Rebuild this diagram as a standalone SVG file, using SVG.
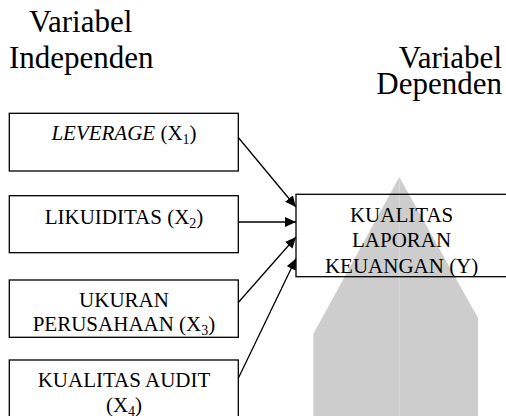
<svg xmlns="http://www.w3.org/2000/svg" width="506" height="416" viewBox="0 0 506 416">
<style>
text{font-family:"Liberation Serif",Tinos,"Times New Roman",Times,"Nimbus Roman","Nimbus Roman No9 L","Noto Serif","DejaVu Serif",FreeSerif,serif;fill:#000}
.t{font-size:31px}
.b{font-size:21px;text-anchor:middle}
.box{fill:none;stroke:#000;stroke-width:1.3}
.c{stroke:#000;stroke-width:1.3;fill:none;marker-end:url(#ah)}
.s{font-size:14px}
</style>
<defs>
<marker id="ah" markerUnits="userSpaceOnUse" markerWidth="12" markerHeight="10" refX="11" refY="5" orient="auto">
<path d="M0,0 L11,5 L0,10 Z" fill="#000"/>
</marker>
</defs>
<g id="watermark">
<polygon points="399.3,177 478,318 478,416 313.3,416 313.3,334" fill="#cdcdcd"/>
<line x1="399.3" y1="178" x2="399.3" y2="416" stroke="#d9d9d9" stroke-width="1"/>
</g>
<g id="title-independen">
<text class="t" x="29" y="32">Variabel</text>
<text class="t" x="9" y="68">Independen</text>
</g>
<g id="title-dependen">
<text class="t" x="502" y="68" text-anchor="end">Variabel</text>
<text class="t" x="502" y="94" text-anchor="end">Dependen</text>
</g>
<g id="connectors">
<line class="c" x1="238.3" y1="137.5" x2="296" y2="207"/>
<line class="c" x1="238.3" y1="222" x2="296" y2="222"/>
<line class="c" x1="238.3" y1="302.5" x2="296" y2="237"/>
<line class="c" x1="238.3" y1="378.3" x2="296" y2="258.5"/>
</g>
<g id="x1">
<rect class="box" x="9.3" y="113.3" width="229" height="57.7"/>
<text class="b" x="124" y="140"><tspan font-style="italic">LEVERAGE</tspan> (X<tspan class="s" dy="4">1</tspan><tspan dy="-4">)</tspan></text>
</g>
<g id="x2">
<rect class="box" x="9.3" y="195.7" width="229" height="57"/>
<text class="b" x="124" y="224.3">LIKUIDITAS (X<tspan class="s" dy="4">2</tspan><tspan dy="-4">)</tspan></text>
</g>
<g id="x3">
<rect class="box" x="9.3" y="280" width="229" height="57.3"/>
<text class="b" x="124" y="307">UKURAN</text>
<text class="b" x="124" y="330.5">PERUSAHAAN (X<tspan class="s" dy="4">3</tspan><tspan dy="-4">)</tspan></text>
</g>
<g id="x4">
<rect class="box" x="9.3" y="360" width="229" height="70"/>
<text class="b" x="124" y="386.7">KUALITAS AUDIT</text>
<text class="b" x="124" y="411.5">(X<tspan class="s" dy="4">4</tspan><tspan dy="-4">)</tspan></text>
</g>
<g id="y">
<rect class="box" x="296" y="194.3" width="220" height="82.4"/>
<text class="b" x="401.6" y="221.7">KUALITAS</text>
<text class="b" x="401.6" y="247.3">LAPORAN</text>
<text class="b" x="401.6" y="273.3">KEUANGAN (Y)</text>
</g>
</svg>
